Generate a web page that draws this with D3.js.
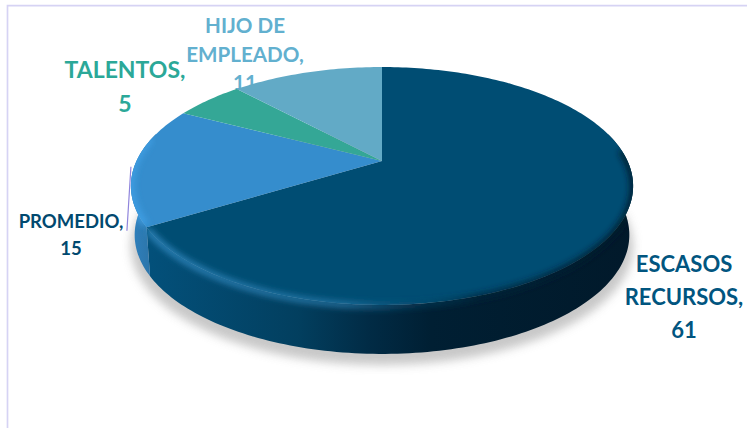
<!DOCTYPE html>
<html><head><meta charset="utf-8">
<script src="https://cdn.jsdelivr.net/npm/d3@7"></script>
<style>html,body{margin:0;padding:0;background:#fff}svg{display:block}text{font-family:Lato,"Open Sans",sans-serif;font-weight:700}</style>
</head><body><svg id="c" width="747" height="428"></svg>
<script>
const categories = ["ESCASOS RECURSOS", "PROMEDIO", "TALENTOS", "HIJO DE EMPLEADO"];
const values = [61, 15, 5, 11];
const sliceColors = ["#004d73", "#358dcd", "#34a796", "#62aac6"];
const labelColors = ["#01557f", "#01496f", "#2ba898", "#62b0cf"];
const labelLines = [["ESCASOS","RECURSOS,","61"],["PROMEDIO,","15"],["TALENTOS,","5"],["HIJO DE","EMPLEADO,","11"]];

const svg = d3.select("#c");
const W = 747, H = 428;
const cx = 382, apexY = 161, k = 0.21, by = 113.7, R = 245.5, depth = 49;

const defs = svg.append("defs");
const blur = (id, s) => defs.append("filter").attr("id", id)
  .attr("x", "-20%").attr("y", "-20%").attr("width", "140%").attr("height", "140%")
  .append("feGaussianBlur").attr("stdDeviation", s);
blur("b8", 5); blur("b2", 3);

const grad = defs.append("linearGradient").attr("id", "sideG")
  .attr("gradientUnits", "userSpaceOnUse").attr("x1", 130).attr("x2", 640).attr("y1", 0).attr("y2", 0);
[[0.04, "#03507a"], [0.33, "#023f5f"], [0.47, "#012b45"], [0.59, "#001f33"], [1, "#01192a"]]
  .forEach(([o, c]) => grad.append("stop").attr("offset", o).attr("stop-color", c));
const gradB = defs.append("linearGradient").attr("id", "sideB")
  .attr("gradientUnits", "userSpaceOnUse").attr("x1", 132).attr("x2", 152).attr("y1", 0).attr("y2", 0);
[[0, "#2f80bd"], [1, "#2c74a8"]].forEach(([o, c]) => gradB.append("stop").attr("offset", o).attr("stop-color", c));

// Project a disc position (angle clockwise from 12 o'clock, radius fraction) into the tilted view
const proj = (a, r = 1, dy = 0, shrink = 1) => {
  const u = r * Math.sin(a), v = r * Math.cos(a), w = 1 + k * v;
  return [cx + shrink * R * u / w, apexY - by * v / w + dy];
};
const line = d3.line();
const arcPts = (a0, a1, dy = 0, shrink = 1) => {
  const n = Math.max(2, Math.ceil(Math.abs(a1 - a0) / 0.02));
  return d3.range(n + 1).map(i => proj(a0 + (a1 - a0) * i / n, 1, dy, shrink));
};
const pie = d3.pie().sort(null).value(d => d)(values);
const TAU = 2 * Math.PI;

// frame
svg.append("path").attr("d", line([[7.5, H], [7.5, 5.7], [W, 5.7]]))
  .attr("fill", "none").attr("stroke", "#d6d3f4").attr("stroke-width", 1.7);

// labels sit behind the pie
const labelPos = [[684, 272, 33, 22], [71, 228, 26.5, 18.5], [125, 78, 33.5, 23], [245, 33, 28.5, 20.6]];
labelLines.forEach((ls, i) => {
  const [x, y, lh, fs] = labelPos[i];
  const t = svg.append("text").attr("text-anchor", "middle").attr("fill", labelColors[i]).attr("font-size", fs);
  ls.forEach((s, j) => t.append("tspan").attr("x", x).attr("y", y + j * lh).text(s));
});

// drop shadow
svg.append("path").attr("d", line(arcPts(0, TAU, depth + 11, 1)) + "Z")
  .attr("fill", "#c2c2c2").attr("opacity", .9).attr("filter", "url(#b8)");

// walls: only front-facing part of the rim shows
const wallFrom = Math.PI / 2 - 0.25, wallTo = 3 * Math.PI / 2 + 0.25;
pie.forEach((d, i) => {
  const a0 = Math.max(d.startAngle, wallFrom), a1 = Math.min(d.endAngle, wallTo);
  if (a1 <= a0) return;
  svg.append("path")
    .attr("d", line(arcPts(a0, a1, 0).concat(arcPts(a1, a0, depth, 0.985))) + "Z")
    .attr("fill", i === 0 ? "url(#sideG)" : "url(#sideB)");
});

// top faces
pie.forEach((d, i) => {
  svg.append("path")
    .attr("d", line([proj(0, 0)].concat(arcPts(d.startAngle, d.endAngle))) + "Z")
    .attr("fill", sliceColors[i]);
});

// rim bevel: soft light edge to the left, soft dark edge to the right
const clip = defs.append("clipPath").attr("id", "body");
clip.append("path").attr("d", line(arcPts(Math.PI / 2 - 0.3, 3 * Math.PI / 2 + 0.3, 0).concat(arcPts(3 * Math.PI / 2 + 0.3, Math.PI / 2 - 0.3, depth, 0.985))) + "Z");
clip.append("path").attr("d", line(arcPts(0, TAU)) + "Z");
const bevel = svg.append("g").attr("clip-path", "url(#body)");
const split = pie[0].endAngle;
const hl = defs.append("linearGradient").attr("id", "hl")
  .attr("gradientUnits", "userSpaceOnUse").attr("x1", 150).attr("x2", 640).attr("y1", 0).attr("y2", 0);
[[0, "#2f86bd", 1], [0.4, "#2778a8", .9], [0.55, "#0d4a6c", .5], [0.66, "#01263c", .9], [1, "#01192a", 1]]
  .forEach(([o, c, a]) => hl.append("stop").attr("offset", o).attr("stop-color", c).attr("stop-opacity", a));
bevel.append("path").attr("d", line(arcPts(Math.PI / 2 - 0.1, split - 0.01, 1)))
  .attr("fill", "none").attr("stroke", "url(#hl)").attr("stroke-width", 6).attr("filter", "url(#b2)");
bevel.append("path").attr("d", line(arcPts(split + 0.01, 3 * Math.PI / 2 + 0.2, -1)))
  .attr("fill", "none").attr("stroke", "#3fa0e6").attr("stroke-width", 6).attr("filter", "url(#b2)");

// thin leader beside PROMEDIO
const lead = proj(split + 0.345, 1);
svg.append("path").attr("d", line([[lead[0], lead[1] - 18], [lead[0] - 4, lead[1] + 46]]))
  .attr("fill", "none").attr("stroke", "#8f84dc").attr("stroke-width", 1.2);
</script></body></html>
